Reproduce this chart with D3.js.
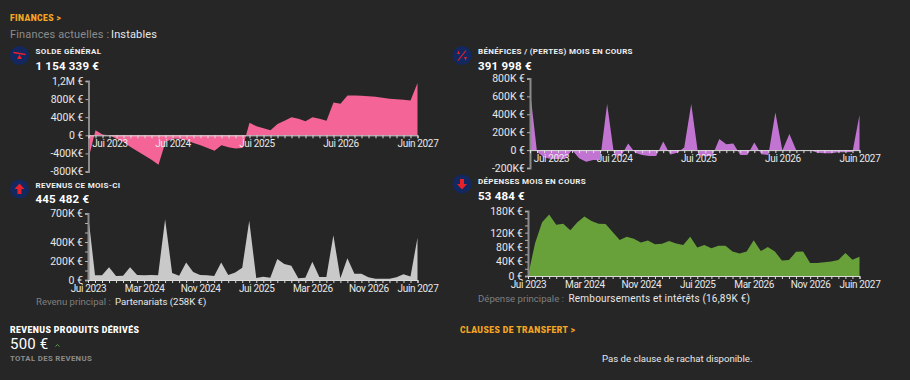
<!DOCTYPE html>
<html>
<head>
<meta charset="utf-8">
<script src="https://cdn.jsdelivr.net/npm/d3@7/dist/d3.min.js"></script>
<style>
  html, body { margin: 0; padding: 0; background: #262626; }
  svg { display: block; }
  text { font-family: Roboto, "Liberation Sans", sans-serif; }
</style>
</head>
<body>
<div id="chart"></div>
<script>
// valeurs en milliers d'euros, 48 mois (juil. 2023 -> juin 2027)
const solde = [-520, 110, 15, 0, -75, -150, -260, -350, -445, -540, -650, -150, -75, -75, -110, -170, -220, -280, -340, -220, -265, -290, -280, 275, 200, 155, 110, 250, 320, 400, 365, 310, 400, 365, 320, 725, 695, 880, 880, 875, 865, 850, 830, 805, 795, 785, 770, 1154];
const benefices = [670, -20, -80, -100, -100, -100, 0, -90, -130, -110, -110, 515, -55, -65, 75, -30, -55, -65, -65, 95, -50, -30, 30, 515, -55, -65, -65, 125, 65, 75, -55, -55, 85, -45, -55, 420, -5, 180, -5, -3, -3, -30, -35, -35, -25, -25, -20, 392];
const revenus = [700, 50, 50, 135, 42, 45, 135, 52, 50, 52, 50, 640, 75, 45, 185, 85, 52, 50, 42, 185, 52, 80, 130, 623, 20, 35, 25, 220, 168, 150, 18, 25, 192, 32, 32, 472, 18, 228, 66, 66, 28, 12, 12, 12, 28, 60, 38, 445];
const depenses = [0, 91, 149, 170, 142, 145, 127, 149, 165, 152, 145, 144, 122, 100, 109, 103, 93, 98, 88, 89, 97, 90, 86, 109, 79, 86, 77, 84, 84, 68, 62, 68, 99, 69, 80, 68, 43, 44, 67, 68, 36, 36, 38, 40, 44, 64, 45, 53];

// graduations
const soldeTicks = [-800, -400, 0, 400, 800, 1200];
const soldeLabels = ["-800K€", "-400K€", "0 €", "400K €", "800K €", "1,2M €"];
const beneficesTicks = [-200, 0, 200, 400, 600, 800];
const beneficesLabels = ["-200K€", "0 €", "200K €", "400K €", "600K €", "800K €"];
const revenusTicks = [0, 100, 200, 300, 400, 500, 600, 700];
const revenusLabels = ["0 €", "", "200K €", "", "400K €", "", "", "700K €"];
const depensesTicks = [0, 20, 40, 60, 80, 100, 120, 140, 160, 180];
const depensesLabels = ["0 €", "", "40K €", "", "80K €", "", "120K €", "", "", "180K €"];

// mois qui portent un libellé
const moisHaut = [3, 12, 24, 36, 47];
const moisHautLabels = ["Jui 2023", "Jui 2024", "Jui 2025", "Jui 2026", "Juin 2027"];
const moisBas = [0, 8, 16, 24, 32, 40, 47];
const moisBasLabels = ["Jui 2023", "Mar 2024", "Nov 2024", "Jui 2025", "Mar 2026", "Nov 2026", "Juin 2027"];

const svg = d3.select("#chart").append("svg")
    .attr("width", 910)
    .attr("height", 380);

function txt(x, y, s, size, color, weight, spacing, anchor) {
    return svg.append("text")
        .attr("x", x)
        .attr("y", y)
        .attr("font-size", size)
        .attr("fill", color)
        .attr("font-weight", weight || 400)
        .attr("letter-spacing", spacing || 0)
        .attr("text-anchor", anchor || "start")
        .text(s);
}

function drawArea(o) {
    const x = d3.scaleLinear().domain([0, o.values.length - 1]).range([o.x0, o.x1]);
    const y = d3.scaleLinear().domain([o.yTicks[0], o.yTicks[o.yTicks.length - 1]]).range([o.yBottom, o.yTop]);
    const g = svg.append("g");

    const area = d3.area()
        .x((d, i) => x(i))
        .y0(y(0))
        .y1(d => y(d));

    g.append("path")
        .datum(o.values)
        .attr("d", area)
        .attr("fill", o.color);

    // axe y
    const yAxis = d3.axisLeft(y)
        .tickValues(o.yTicks)
        .tickSize(3)
        .tickPadding(2)
        .tickFormat((d, i) => o.yLabels[i]);

    const ya = g.append("g")
        .attr("transform", "translate(" + o.x0 + ",0)")
        .call(yAxis);
    ya.select(".domain").attr("stroke", "#8a8a8a").attr("stroke-width", 2);
    ya.selectAll(".tick line").attr("stroke", "#b0b0b0");
    ya.selectAll("text").attr("fill", "#e8e8e8").attr("font-size", 10.5).attr("font-family", "Roboto");

    // axe x, tous les mois ont un trait
    const xAxis = d3.axisBottom(x)
        .tickValues(d3.range(o.values.length))
        .tickSize(3)
        .tickPadding(2)
        .tickFormat(i => {
            const k = o.months.indexOf(i);
            return k < 0 ? "" : o.monthLabels[k];
        });

    const xa = g.append("g")
        .attr("transform", "translate(0," + y(0) + ")")
        .call(xAxis);
    xa.select(".domain").attr("stroke", "#dcdcdc").attr("stroke-width", 1);
    xa.selectAll(".tick line").attr("stroke", "#dcdcdc");
    xa.selectAll("text").attr("fill", "#e8e8e8").attr("font-size", 10).attr("letter-spacing", -0.35).attr("font-family", "Roboto");
}

function badge(cx, cy, kind) {
    const g = svg.append("g").attr("transform", "translate(" + cx + "," + cy + ")");
    g.append("circle").attr("r", 9.5).attr("fill", "#13285f");
    const red = "#e8202a";
    if (kind === "up" || kind === "down") {
        const arrow = kind === "up" ? "M0,-5.5 L5,0 L2,0 L2,5 L-2,5 L-2,0 L-5,0 Z" : "M0,5.5 L5,0 L2,0 L2,-5 L-2,-5 L-2,0 L-5,0 Z";
        g.append("path").attr("d", arrow).attr("fill", red);
    } else if (kind === "scale") {
        g.append("path").attr("d", "M-6,-3 L6,-1").attr("stroke", red).attr("stroke-width", 1.6);
        g.append("path").attr("d", "M0,-1 L2.5,3.5 L-2.5,3.5 Z").attr("fill", red);
    } else {
        g.append("path").attr("d", "M-4,5 L4,-5").attr("stroke", red).attr("stroke-width", 1.2);
        g.append("path").attr("d", "M-5,-1.5 L-3.5,-5 L-2,-1.5 Z M2,1.5 L5,1.5 L3.5,5 Z").attr("fill", red);
    }
}

// en-tête
txt(10, 21, "FINANCES >", 8.5, "#f5a623", 900, 0.4);
txt(10, 38, "Finances actuelles :", 11, "#8c8c8c", 400, 0.15);
txt(111, 38, "Instables", 11, "#e8e8e8", 400, 0.15);

// solde général
badge(19.5, 55.5, "scale");
txt(35.5, 54, "SOLDE GÉNÉRAL", 8, "#f0f0f0", 700, 0.35);
txt(35.5, 70, "1 154 339 €", 11.5, "#ffffff", 700, 0.2);
drawArea({ values: solde, color: "#f46496", x0: 88.5, x1: 417.5, yTop: 81, yBottom: 171.5, yTicks: soldeTicks, yLabels: soldeLabels, months: moisHaut, monthLabels: moisHautLabels });

// bénéfices
badge(462, 55.5, "pct");
txt(478, 54, "BÉNÉFICES / (PERTES) MOIS EN COURS", 8, "#f0f0f0", 700, 0.3);
txt(478, 70, "391 998 €", 11.5, "#ffffff", 700, 0.2);
drawArea({ values: benefices, color: "#c274d2", x0: 530, x1: 859.5, yTop: 78.5, yBottom: 168, yTicks: beneficesTicks, yLabels: beneficesLabels, months: moisHaut, monthLabels: moisHautLabels });

// revenus
badge(19.5, 189, "up");
txt(35.5, 188, "REVENUS CE MOIS-CI", 8, "#f0f0f0", 700, 0.3);
txt(35.5, 203, "445 482 €", 11.5, "#ffffff", 700, 0.2);
drawArea({ values: revenus, color: "#c9c9c9", x0: 88, x1: 417.5, yTop: 213.5, yBottom: 280, yTicks: revenusTicks, yLabels: revenusLabels, months: moisBas, monthLabels: moisBasLabels });
txt(36, 305, "Revenu principal :", 9.6, "#7f7f7f", 400, 0);
txt(115, 305, "Partenariats (258K €)", 9.6, "#e8e8e8", 400, 0);

// dépenses
badge(462, 184, "down");
txt(478, 184, "DÉPENSES MOIS EN COURS", 8, "#f0f0f0", 700, 0.3);
txt(478, 200, "53 484 €", 11.5, "#ffffff", 700, 0.2);
drawArea({ values: depenses, color: "#68a03a", x0: 528, x1: 859.5, yTop: 211, yBottom: 276, yTicks: depensesTicks, yLabels: depensesLabels, months: moisBas, monthLabels: moisBasLabels });
txt(478, 302, "Dépense principale :", 9.6, "#7f7f7f", 400, 0);
txt(568.5, 302, "Remboursements et intérêts (16,89K €)", 10, "#e8e8e8", 400, 0.2);

// bas de page
txt(10, 333, "REVENUS PRODUITS DÉRIVÉS", 8.7, "#ffffff", 900, 0.4);
txt(10, 349, "500 €", 15, "#ffffff", 400, 0.2);
svg.append("path").attr("d", "M55.5,346.5 L57.5,344.5 L59.5,346.5").attr("fill", "none").attr("stroke", "#5d9e4a").attr("stroke-width", 1);
txt(10, 361, "TOTAL DES REVENUS", 7.8, "#8c8c8c", 700, 0.35);
txt(460, 333, "CLAUSES DE TRANSFERT >", 8.5, "#f5a623", 900, 0.45);
txt(602, 362, "Pas de clause de rachat disponible.", 9.6, "#e8e8e8", 400, 0);
</script>
</body>
</html>
